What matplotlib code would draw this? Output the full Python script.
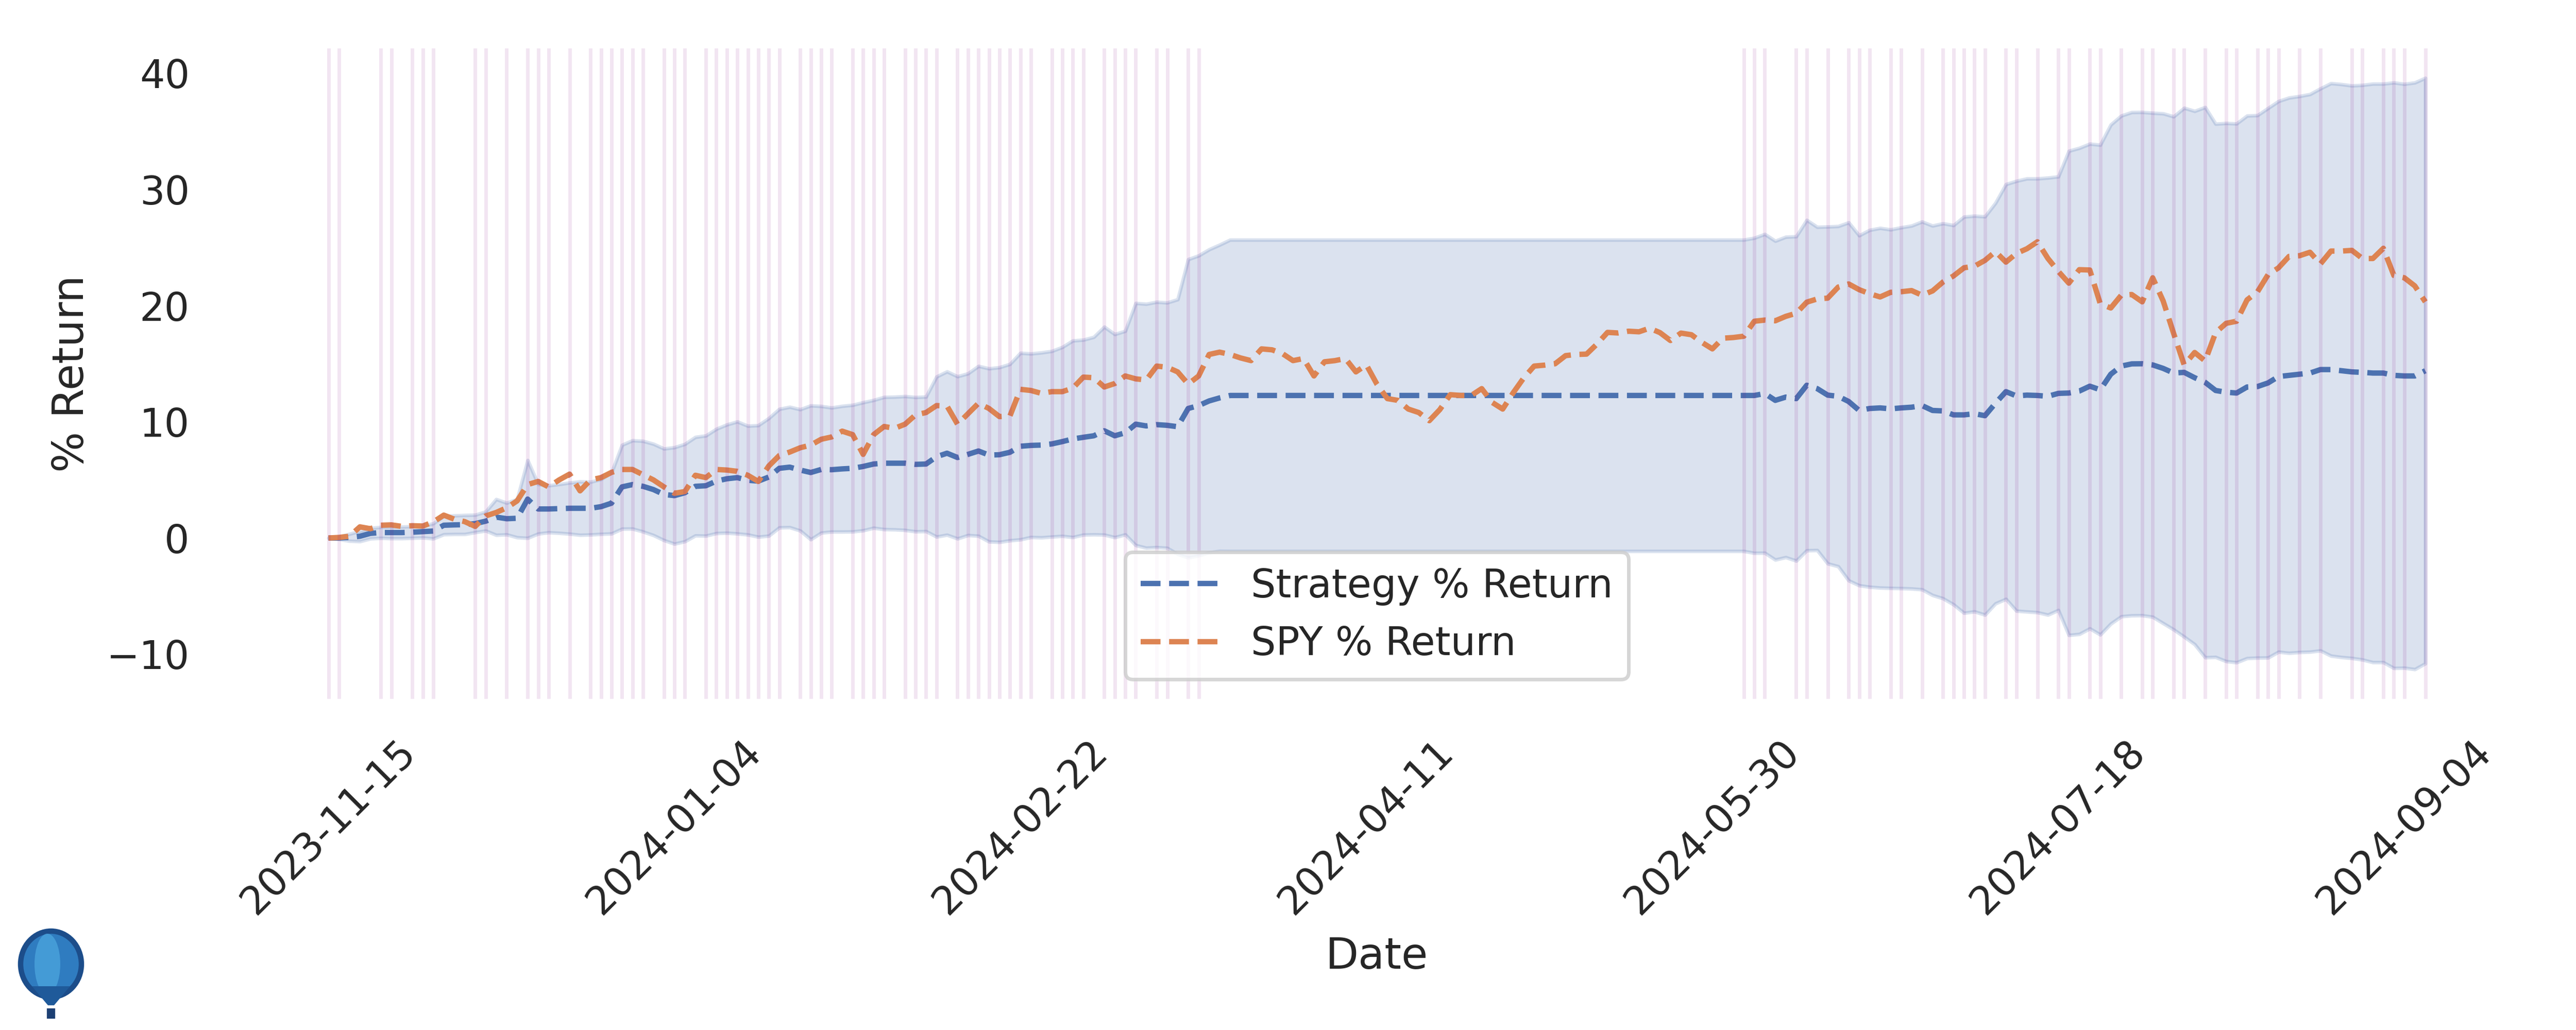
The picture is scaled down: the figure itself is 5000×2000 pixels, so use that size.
import matplotlib
matplotlib.use("Agg")
import matplotlib.pyplot as plt
import seaborn as sns
import numpy as np
from matplotlib.patches import Ellipse, Polygon, Rectangle

sns.set_theme(style="white")
plt.rcParams['font.family'] = ['DejaVu Sans']

# ---------------- data ----------------
tick_positions = [0, 33, 66, 99, 132, 165, 198]
tick_labels = ["2023-11-15", "2024-01-04", "2024-02-22", "2024-04-11",
               "2024-05-30", "2024-07-18", "2024-09-04"]

strategy_return = [
    0.0, 0.0, 0.05, 0.15, 0.4, 0.47, 0.47, 0.47, 0.5, 0.55,
    0.6, 1.1, 1.13, 1.15, 1.24, 1.45, 1.8, 1.66, 1.7, 3.35,
    2.5, 2.5, 2.53, 2.56, 2.56, 2.56, 2.7, 3.0, 4.4, 4.6,
    4.45, 4.17, 3.75, 3.65, 3.9, 4.45, 4.5, 4.9, 5.1, 5.2,
    4.97, 4.9, 5.25, 6.0, 6.1, 5.85, 5.64, 5.9, 5.88, 5.95,
    6.0, 6.16, 6.37, 6.44, 6.44, 6.44, 6.34, 6.37, 7.0, 7.3,
    6.93, 7.2, 7.49, 7.14, 7.17, 7.38, 7.9, 7.97, 8.0, 8.1,
    8.3, 8.53, 8.67, 8.8, 9.23, 8.8, 9.06, 9.8, 9.65, 9.76,
    9.7, 9.58, 11.15, 11.4, 11.8, 12.06, 12.27, 12.27, 12.27, 12.27,
    12.27, 12.27, 12.27, 12.27, 12.27, 12.27, 12.27, 12.27, 12.27, 12.27,
    12.27, 12.27, 12.27, 12.27, 12.27, 12.27, 12.27, 12.27, 12.27, 12.27,
    12.27, 12.27, 12.27, 12.27, 12.27, 12.27, 12.27, 12.27, 12.27, 12.27,
    12.27, 12.27, 12.27, 12.27, 12.27, 12.27, 12.27, 12.27, 12.27, 12.27,
    12.27, 12.27, 12.27, 12.27, 12.27, 12.27, 12.27, 12.44, 11.85, 12.13,
    12.0, 13.15, 12.86, 12.3, 12.2, 11.75, 10.98, 11.15, 11.2, 11.12,
    11.2, 11.26, 11.4, 10.98, 10.94, 10.6, 10.6, 10.7, 10.53, 11.6,
    12.6, 12.23, 12.3, 12.27, 12.2, 12.45, 12.48, 12.65, 13.07, 12.76,
    14.1, 14.8, 14.99, 15.0, 14.9, 14.6, 14.2, 14.26, 13.8, 13.4,
    12.7, 12.55, 12.48, 13.0, 13.04, 13.35, 13.9, 14.0, 14.1, 14.2,
    14.5, 14.5, 14.4, 14.3, 14.26, 14.2, 14.2, 14.0, 13.95, 13.95,
    14.4,
]

spy_return = [
    0.0, 0.05, 0.15, 0.96, 0.8, 1.1, 1.13, 1.0, 1.06, 1.03,
    1.38, 1.97, 1.62, 1.41, 1.0, 1.9, 2.2, 2.6, 3.2, 4.6,
    4.87, 4.4, 5.0, 5.5, 4.06, 5.0, 5.2, 5.65, 5.9, 5.9,
    5.45, 5.0, 4.4, 3.85, 4.0, 5.4, 5.2, 5.9, 5.85, 5.74,
    5.4, 4.87, 6.2, 7.1, 7.4, 7.77, 8.0, 8.5, 8.7, 9.2,
    8.9, 7.2, 8.9, 9.6, 9.44, 9.8, 10.6, 10.8, 11.4, 11.36,
    9.8, 10.7, 11.6, 11.15, 10.45, 10.5, 12.8, 12.7, 12.45, 12.6,
    12.6, 12.9, 13.85, 13.8, 13.0, 13.3, 13.95, 13.7, 13.6, 14.8,
    14.7, 14.3, 13.25, 13.95, 15.8, 16.0, 15.8, 15.5, 15.27, 16.28,
    16.2, 15.87, 15.27, 15.45, 13.95, 15.17, 15.27, 15.45, 14.3, 14.9,
    13.25, 12.0, 11.85, 11.1, 10.8, 10.1, 11.05, 12.34, 12.27, 12.27,
    12.86, 11.67, 11.1, 12.5, 13.77, 14.8, 14.88, 15.0, 15.7, 15.8,
    15.83, 16.7, 17.7, 17.65, 17.8, 17.75, 18.06, 17.68, 17.0, 17.64,
    17.5, 16.84, 16.28, 17.2, 17.26, 17.37, 18.66, 18.76, 18.7, 19.08,
    19.35, 20.3, 20.58, 20.65, 21.6, 21.87, 21.38, 21.03, 20.75, 21.15,
    21.2, 21.3, 20.9, 21.27, 22.04, 22.56, 23.26, 23.4, 23.9, 24.66,
    23.75, 24.5, 24.9, 25.5, 24.07, 22.95, 21.94, 23.1, 23.07, 20.16,
    19.8, 20.9, 20.96, 20.33, 22.4, 20.4, 17.6, 14.9, 15.97, 15.24,
    17.68, 18.48, 18.66, 20.5, 21.2, 22.67, 23.26, 24.24, 24.3, 24.6,
    23.6, 24.7, 24.7, 24.76, 24.06, 24.06, 24.94, 22.6, 22.4, 21.7,
    20.33,
]

# half-width of the shaded band around the strategy line
band_halfwidth = [
    0.0, 0.1, 0.3, 0.44, 0.45, 0.47, 0.5, 0.5, 0.5, 0.52,
    0.65, 0.79, 0.8, 0.82, 0.75, 0.82, 1.54, 1.36, 1.65, 3.35,
    2.13, 2.02, 2.1, 2.2, 2.3, 2.27, 2.36, 2.62, 3.61, 3.8,
    3.9, 3.93, 3.94, 4.15, 4.19, 4.24, 4.31, 4.49, 4.66, 4.82,
    4.68, 4.8, 5.06, 5.1, 5.18, 5.22, 5.76, 5.45, 5.34, 5.41,
    5.45, 5.51, 5.5, 5.69, 5.71, 5.76, 5.78, 5.79, 6.89, 7.03,
    6.98, 6.96, 7.31, 7.45, 7.52, 7.59, 8.03, 7.9, 7.96, 7.99,
    8.13, 8.46, 8.39, 8.5, 8.95, 8.74, 8.76, 10.42, 10.5, 10.56,
    10.56, 10.96, 12.84, 12.91, 13.04, 13.18, 13.4, 13.4, 13.4, 13.4,
    13.4, 13.4, 13.4, 13.4, 13.4, 13.4, 13.4, 13.4, 13.4, 13.4,
    13.4, 13.4, 13.4, 13.4, 13.4, 13.4, 13.4, 13.4, 13.4, 13.4,
    13.4, 13.4, 13.4, 13.4, 13.4, 13.4, 13.4, 13.4, 13.4, 13.4,
    13.4, 13.4, 13.4, 13.4, 13.4, 13.4, 13.4, 13.4, 13.4, 13.4,
    13.4, 13.4, 13.4, 13.4, 13.4, 13.4, 13.56, 13.72, 13.72, 13.79,
    13.96, 14.22, 13.91, 14.5, 14.64, 15.41, 15.06, 15.36, 15.48, 15.43,
    15.53, 15.62, 15.83, 15.9, 16.14, 16.32, 17.05, 17.03, 17.14, 17.24,
    17.85, 18.5, 18.64, 18.67, 18.81, 18.66, 20.84, 20.92, 20.86, 21.08,
    21.48, 21.55, 21.66, 21.66, 21.69, 21.94, 22.08, 22.76, 22.95, 23.68,
    22.95, 23.16, 23.19, 23.35, 23.35, 23.65, 23.7, 23.9, 23.93, 24.0,
    24.19, 24.64, 24.66, 24.64, 24.73, 24.9, 24.9, 25.2, 25.13, 25.25,
    25.2,
]

# days (index) marked with a vertical line
signal_days = [
    0, 1, 5, 6, 8, 9, 10, 14, 15, 17, 19, 20, 21, 23, 25, 26, 27, 28, 29, 30,
    32, 33, 34, 36, 37, 38, 39, 40, 41, 42, 43, 45, 46, 47, 48, 50, 51, 52, 53,
    55, 56, 57, 58, 60, 61, 62, 63, 64, 65, 66, 67, 69, 70, 71, 72, 74, 75, 76,
    77, 79, 80, 82, 83, 135, 136, 137, 140, 141, 143, 145, 146, 147, 149, 150,
    152, 154, 155, 156, 157, 158, 160, 161, 163, 165, 166, 168, 169, 171, 173,
    174, 176, 177, 179, 181, 182, 184, 185, 186, 188, 190, 193, 194, 196, 197,
    198, 200,
]

# ---------------- plot ----------------
blue = "#4c72b0"
orange = "#dd8452"

strat = np.array(strategy_return)
spy = np.array(spy_return)
hw = np.array(band_halfwidth)
x = np.arange(len(strat))

fig = plt.figure(figsize=(10, 4), dpi=500)
ax = fig.add_axes([0.0868, 0.3215, 0.8954, 0.6315])

ax.fill_between(x, strat - hw, strat + hw, color=blue, alpha=0.2)
ax.plot(x, strat, linestyle="--", color=blue, linewidth=1.5, label="Strategy % Return")
ax.plot(x, spy, linestyle="--", color=orange, linewidth=1.5, label="SPY % Return")
for d in signal_days:
    ax.axvline(d, color="purple", alpha=0.1, linewidth=1)

ax.set_xticks(tick_positions)
ax.set_xticklabels(tick_labels, rotation=45)
ax.set_xlabel("Date")
ax.set_ylabel("% Return")
for s in ax.spines.values():
    s.set_visible(False)
ax.legend(loc="lower center")

# small balloon logo in the lower-left corner
W, H = 5000.0, 2000.0
fig.add_artist(Ellipse((99 / W, 1 - 1872 / H), 118 / W, 128 / H,
                       transform=fig.transFigure, facecolor="#2f7cc0",
                       edgecolor="#1c4d8a", linewidth=1.5))
fig.add_artist(Ellipse((92 / W, 1 - 1872 / H), 50 / W, 118 / H,
                       transform=fig.transFigure, facecolor="#4aa3dc",
                       edgecolor="none", alpha=0.8))
fig.add_artist(Polygon([(62 / W, 1 - 1915 / H), (136 / W, 1 - 1915 / H),
                        (105 / W, 1 - 1952 / H), (93 / W, 1 - 1952 / H)],
                       closed=True, transform=fig.transFigure,
                       facecolor="#1f5a9a", edgecolor="none"))
fig.add_artist(Rectangle((91 / W, 1 - 1978 / H), 16 / W, 20 / H,
                         transform=fig.transFigure, facecolor="#1c3f73",
                         edgecolor="none"))

fig.savefig("out.png", dpi=500)
